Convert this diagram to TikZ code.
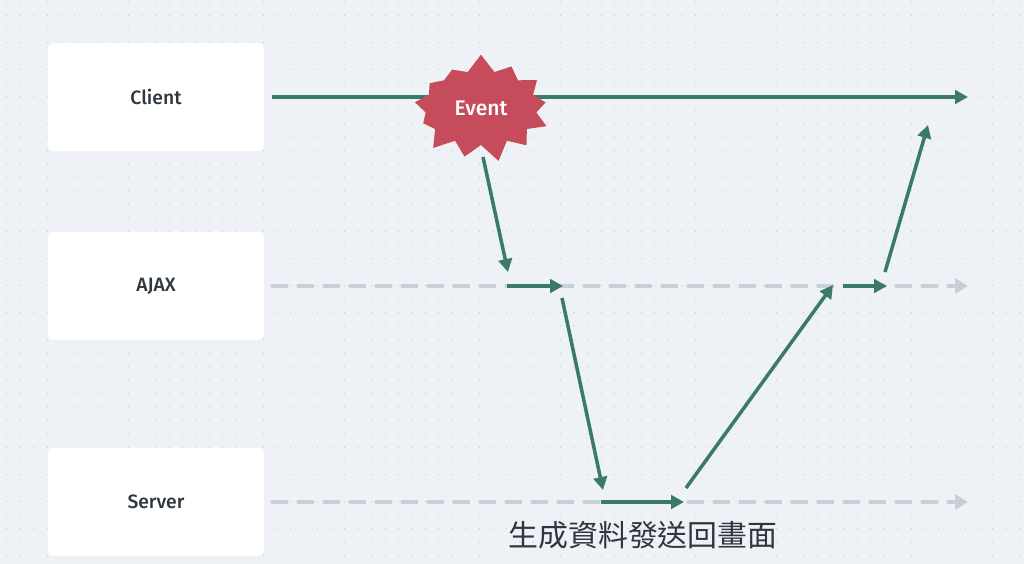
\documentclass[tikz,border=0pt]{standalone}
\usepackage{fontspec}
\setsansfont{Fira Sans Medium}
\newfontfamily\cjk{Noto Sans CJK TC}
\usetikzlibrary{arrows.meta,calc,positioning,shapes.symbols}
\definecolor{paper}{HTML}{EEF1F5}
\definecolor{dot}{HTML}{C3C9D1}
\definecolor{ink}{HTML}{2E3640}
\definecolor{flow}{HTML}{3A7A66}
\definecolor{idle}{HTML}{C7CFD8}
\definecolor{alarm}{HTML}{C64C5B}
\tikzset{
  lane/.style={fill=white,rounded corners=3pt,minimum width=4.32cm,minimum height=2.16cm,
    text=ink,font=\sffamily\fontsize{11}{13}\selectfont},
  flowline/.style={flow,line width=2pt,-{Triangle[length=0.26cm,width=0.27cm]}},
  idleline/.style={idle,line width=2.3pt,line cap=round,dash pattern=on 0.28cm off 0.24cm,
    -{Triangle[length=0.26cm,width=0.3cm]}},
}

\begin{document}
\begin{tikzpicture}[x=1cm,y=1cm,line join=round,font=\sffamily]
  \path[use as bounding box] (0,0) rectangle (20.48,11.28);
  \fill[paper] (0,0) rectangle (20.48,11.28);

  % dot grid
  \foreach \i in {0,...,75}{
    \foreach \j in {0,...,41}{
      \fill[dot] ({0.14+0.27*\i},{11.24-0.27*\j}) circle (0.013);
    }
  }

  % lanes
  \node[lane] (client) at (3.12,9.34) {Client};
  \node[lane] (ajax)   at (3.12,5.56) {AJAX};
  \node[lane] (server) at (3.12,1.24) {Server};

  \coordinate (clientend) at (19.36,9.34);
  \coordinate (ajaxend)   at (19.36,5.56);
  \coordinate (serverend) at (19.36,1.24);

  \draw[idleline] ([xshift=0.16cm]ajax.east) -- (ajaxend);
  \draw[idleline] ([xshift=0.16cm]server.east) -- (serverend);
  \draw[flowline] ([xshift=0.16cm]client.east) -- (clientend);

  \node[starburst,starburst points=13,starburst point height=0.36cm,random starburst=7,
    fill=alarm,minimum width=2.95cm,minimum height=2.2cm,text=white,
    font=\sffamily\fontsize{12}{14}\selectfont]
    (event) at (9.62,9.12) {Event};

  % request / response path
  \coordinate (p1) at (9.66,8.14);  \coordinate (p2) at (10.16,5.84);
  \coordinate (p3) at (10.14,5.56); \coordinate (p4) at (11.26,5.56);
  \coordinate (p5) at (11.24,5.32); \coordinate (p6) at (12.06,1.48);
  \coordinate (p7) at (12.02,1.24); \coordinate (p8) at (13.68,1.24);
  \coordinate (p9) at (13.72,1.52); \coordinate (p10) at (16.66,5.58);
  \coordinate (p11) at (16.86,5.56); \coordinate (p12) at (17.74,5.56);
  \coordinate (p13) at (17.70,5.84); \coordinate (p14) at (18.56,8.78);
  \foreach \a/\b in {p1/p2,p3/p4,p5/p6,p7/p8,p9/p10,p11/p12,p13/p14}
    \draw[flowline] (\a) -- (\b);

  \node[text=ink,font=\cjk\fontsize{17}{20}\selectfont] (note) at (12.86,0.58) {生成資料發送回畫面};
\end{tikzpicture}
\end{document}
